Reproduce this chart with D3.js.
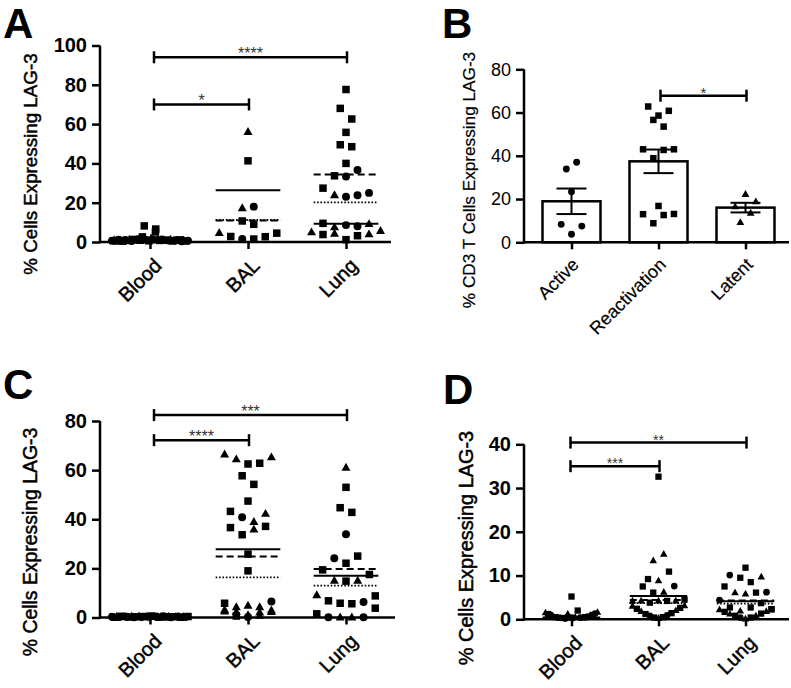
<!DOCTYPE html>
<html><head><meta charset="utf-8">
<script src="https://cdn.jsdelivr.net/npm/d3@7"></script>
<style>body{margin:0;background:#fff}svg{display:block}text{font-family:Arial,"Liberation Sans",sans-serif}</style>
</head><body>
<svg id="fig" width="791" height="688"></svg>
<script>
// ---------------- DATA ----------------
const tissues = ["Blood", "BAL", "Lung"];
const groupsB = ["Active", "Reactivation", "Latent"];
const ticksA = [0, 20, 40, 60, 80, 100];
const ticksB = [0, 20, 40, 60, 80];
const ticksC = [0, 20, 40, 60, 80];
const ticksD = [0, 10, 20, 30, 40];
// shapes: c = circle, s = square, t = triangle ; each inner array = one row of points (left to right)
const A_Blood = [
  [[8.2,'s'],[6.6,'s']],
  [[0.6,'c'],[0.9,'t'],[0.5,'s'],[1.1,'c'],[0.7,'t'],[0.4,'s'],[1.0,'c'],[0.8,'s'],[1.2,'t'],[0.5,'c'],[1.3,'s'],[0.7,'t'],[1.4,'c'],[0.9,'s'],[2.6,'s'],[1.6,'t'],[1.0,'c'],[0.6,'s'],[1.8,'t'],[1.2,'c'],[5.1,'s'],[1.5,'t'],[0.8,'s'],[1.3,'c'],[0.6,'t'],[1.0,'s'],[0.7,'c'],[1.2,'t'],[0.5,'s'],[0.9,'c'],[0.6,'t'],[1.1,'s'],[0.4,'c'],[0.8,'t'],[0.5,'s'],[0.7,'c']]
];
const A_BAL = [
  [[56,'t']], [[41.3,'s']], [[17.2,'t'],[18,'c']], [[10.7,'s'],[9,'s']],
  [[4.6,'t'],[2.8,'s'],[1.6,'c'],[1.5,'s'],[2.7,'s'],[4.5,'s']]
];
const A_Lung = [
  [[77.6,'s']], [[68,'s'],[62.6,'s']], [[55.8,'s']], [[49.5,'s'],[48.5,'s']], [[40,'s']],
  [[33.7,'s'],[33.3,'c'],[36.6,'c']],
  [[27.4,'s'],[23.8,'t'],[23,'c'],[23.8,'c'],[25,'c']],
  [[9.5,'s'],[7.5,'t'],[8.6,'c'],[8.0,'c'],[9.1,'t']],
  [[4.9,'t'],[3.8,'s'],[4.2,'t'],[1.2,'s'],[3.2,'s'],[3.9,'t'],[5.6,'t']]
];
const A_solid = [0.9, 26.3, 9.3], A_dashed = [0.7, 10.9, 34.3], A_dotted = [0.6, 11.2, 20.2];
const A_brackets = [["Blood","Lung",94,"****"],["Blood","BAL",70,"*"]];

const B_Active = [[[33.9,'c'],[37,'c']], [[23.4,'c']], [[8.3,'c'],[3.7,'c'],[7.5,'c']]];
const B_Reactivation = [
  [[62.8,'s'],[58.6,'s'],[60.8,'s']], [[56.6,'s'],[53.5,'s']],
  [[43,'s'],[38.9,'s'],[42.7,'s'],[43,'s']], [[16.8,'s']],
  [[13,'s'],[8.8,'s'],[12.6,'s'],[13.1,'s']]
];
const B_Latent = [[[16.5,'t'],[22.2,'t'],[18.8,'t']], [[9.2,'t'],[13.5,'t']]];
const B_brackets = [["Reactivation","Latent",67.8,"*"]];

const C_Blood = [
  [[0.3,'c'],[0.1,'s'],[0.4,'t'],[0.2,'c'],[0.5,'s'],[0.1,'t'],[0.3,'c'],[0.2,'s'],[0.4,'t'],[0.1,'c'],[0.3,'s'],[0.5,'t'],[0.2,'c'],[0.4,'s'],[0.1,'t'],[0.3,'c'],[0.6,'s'],[0.2,'t'],[0.4,'c'],[0.1,'s'],[0.3,'t'],[0.5,'c'],[0.2,'s'],[0.4,'t'],[0.1,'c'],[0.3,'s'],[0.2,'t'],[0.4,'c'],[0.1,'s'],[0.3,'t'],[0.2,'c'],[0.4,'s']]
];
const C_BAL = [
  [[66.4,'t'],[64.4,'t'],[62.5,'s'],[62.8,'s'],[65.2,'t']],
  [[57.7,'s'],[54.2,'s']], [[47.4,'s']],
  [[43.2,'s'],[40.8,'c'],[38.9,'t'],[42.2,'t']],
  [[36.6,'s'],[33.7,'s'],[35.8,'t'],[37.1,'s']],
  [[25.8,'s']], [[19,'s']],
  [[5.8,'s'],[4.2,'t'],[4.8,'t'],[4.2,'t'],[6.5,'c']],
  [[3.1,'t'],[2.2,'t'],[1.0,'t'],[2.0,'t'],[2.9,'t']],
  [[2.4,'t'],[0.6,'s'],[0.2,'c'],[0.7,'t'],[2.2,'t']]
];
const C_Lung = [
  [[61,'t']], [[53,'s']], [[44.7,'s'],[42.8,'s']], [[33.9,'c']],
  [[24.1,'c'],[22.1,'s'],[25,'s']],
  [[19.4,'s'],[15,'t'],[14.8,'s'],[15,'t'],[17.5,'s']],
  [[9.1,'t'],[6.8,'s'],[5.8,'s'],[5.6,'s'],[6.3,'c'],[8.8,'s']],
  [[1.5,'s'],[0.1,'c'],[0,'t'],[0,'t'],[0.1,'c'],[3.8,'s']]
];
const C_solid = [0.3, 27.8, 17], C_dashed = [0.3, 24.8, 19.7], C_dotted = [0.2, 16.3, 13];
const C_brackets = [["Blood","Lung",82.4,"***"],["Blood","BAL",72.2,"****"]];

const D_Blood = [
  [[5.2,'s']],
  [[1.5,'t'],[1.2,'s'],[1.0,'c'],[0.7,'t'],[0.5,'s'],[0.4,'c'],[0.3,'t'],[0.3,'s'],[0.2,'c'],[1.2,'t'],[0.4,'s'],[0.3,'c'],[0.5,'t'],[2.0,'s'],[0.4,'c'],[0.3,'t'],[0.5,'s'],[0.6,'c'],[0.8,'t'],[1.0,'s'],[1.3,'c'],[1.6,'t']]
];
const D_BAL = [
  [[32.6,'s']], [[13.4,'t'],[14.9,'t']], [[9.2,'s'],[8.8,'t'],[10.9,'s']],
  [[7.5,'s'],[6.1,'s'],[6.2,'t'],[7.6,'c']],
  [[4.2,'t'],[4.2,'t'],[3.8,'s'],[4.2,'t'],[4.2,'s'],[4.2,'t'],[4.5,'s']],
  [[3.0,'t'],[2.4,'s'],[1.8,'t'],[1.2,'s'],[0.8,'c'],[0.4,'s'],[0.2,'t'],[0.5,'s'],[0.9,'c'],[1.4,'s'],[2.0,'t'],[2.6,'s'],[3.1,'t']]
];
const D_Lung = [
  [[11.8,'s']], [[10.1,'c'],[9.5,'s'],[8.5,'s'],[9.7,'t']],
  [[7.5,'s'],[6.1,'t'],[5.8,'t'],[6.1,'s'],[6.2,'c']],
  [[4.4,'c'],[2.7,'s'],[1.9,'t'],[2.7,'s'],[3.7,'s'],[2.3,'s']],
  [[2.2,'t'],[1.7,'s'],[1.2,'t'],[0.8,'s'],[0.4,'c'],[0.1,'t'],[0.4,'s'],[0.8,'t'],[1.3,'s'],[1.8,'t'],[2.3,'s']]
];
const D_solid = [0.4, 5.3, 4.1], D_dashed = [0.3, 4.4, 4.3], D_dotted = [0.3, 3.7, 3.6];
const D_brackets = [["Blood","Lung",40.4,"**"],["Blood","BAL",35,"***"]];

// ---------------- DRAWING ----------------
const svg = d3.select("#fig");

function markerPath(shape, s) {
  if (shape === 's') return `M${-s/2},${-s/2}h${s}v${s}h${-s}Z`;
  if (shape === 'c') { const r = s * 0.53; return `M${r},0A${r},${r} 0 1,1 ${-r},0A${r},${r} 0 1,1 ${r},0Z`; }
  const w = s * 1.2, h = s * 1.05;
  return `M0,${-h*0.62}L${w/2},${h*0.38}L${-w/2},${h*0.38}Z`;
}

function layoutRows(rows, s0, W) {
  const pts = [];
  rows.forEach(row => {
    const n = row.length;
    const s = n > 1 ? Math.min(s0, W / (n - 1)) : 0;
    row.forEach((p, i) => pts.push({ v: p[0], shape: p[1], dx: (i - (n - 1) / 2) * s }));
  });
  return pts;
}

function drawPanel(cfg) {
  const g = svg.append("g");
  const x = d3.scalePoint().domain(cfg.cats).range(cfg.xr).padding(0.5);
  const y = d3.scaleLinear().domain(cfg.yd).range(cfg.yr);
  const y0 = y(0);

  if (cfg.bars) {
    cfg.cats.forEach((c, i) => {
      const vals = cfg.data[i].flat().map(p => p[0]);
      const m = d3.mean(vals), sem = d3.deviation(vals) / Math.sqrt(vals.length);
      const cx = x(c), bw = cfg.barW;
      g.append("rect").attr("x", cx - bw/2).attr("y", y(m)).attr("width", bw).attr("height", y0 - y(m))
        .attr("fill", "#fff").attr("stroke", "#000").attr("stroke-width", 2.5);
      const eb = g.append("g").attr("stroke", "#000").attr("stroke-width", 2);
      eb.append("line").attr("x1", cx).attr("x2", cx).attr("y1", y(m - sem)).attr("y2", y(m + sem));
      [m - sem, m + sem].forEach(v => eb.append("line").attr("x1", cx - 15).attr("x2", cx + 15).attr("y1", y(v)).attr("y2", y(v)));
    });
  }

  cfg.cats.forEach((c, i) => {
    const pts = layoutRows(cfg.data[i], cfg.s0, cfg.W);
    g.selectAll(null).data(pts).join("path")
      .attr("d", d => markerPath(d.shape, cfg.ms))
      .attr("transform", d => `translate(${x(c) + d.dx},${y(d.v)})`)
      .attr("fill", "#000");
  });

  if (cfg.lines) {
    const half = x.step() * 0.33;
    cfg.lines.forEach(([vals, dash, sw]) => {
      cfg.cats.forEach((c, i) => {
        g.append("line").attr("x1", x(c) - half).attr("x2", x(c) + half)
          .attr("y1", y(vals[i])).attr("y2", y(vals[i]))
          .attr("stroke", "#000").attr("stroke-width", sw)
          .attr("stroke-dasharray", dash);
      });
    });
  }

  const ax = g.append("g").attr("stroke", "#000").attr("stroke-width", 2.5).attr("fill", "none");
  ax.append("line").attr("x1", cfg.axX[0]).attr("x2", cfg.axX[1]).attr("y1", y0).attr("y2", y0);
  ax.append("line").attr("x1", cfg.axX[0]).attr("x2", cfg.axX[0]).attr("y1", y0 + 1.25).attr("y2", y(cfg.yd[1]));

  const yAxis = d3.axisLeft(y).tickValues(cfg.ticks).tickSize(8).tickSizeOuter(0).tickPadding(5);
  const ya = g.append("g").attr("transform", `translate(${cfg.axX[0]},0)`).call(yAxis);
  ya.select(".domain").remove();
  ya.selectAll(".tick line").attr("stroke-width", 2.5);
  ya.selectAll(".tick text").attr("font-size", cfg.tickFont).attr("font-weight", cfg.tickWeight)
    .attr("font-family", "Arial, 'Liberation Sans', sans-serif").attr("fill", "#000");

  const xAxis = d3.axisBottom(x).tickSize(7).tickSizeOuter(0).tickFormat("");
  const xa = g.append("g").attr("transform", `translate(0,${y0})`).call(xAxis);
  xa.select(".domain").remove();
  xa.selectAll(".tick line").attr("stroke-width", 2.5);

  // rotated category labels
  cfg.cats.forEach(c => {
    g.append("g").attr("transform", `translate(${x(c) + cfg.xlabDx},${y0 + cfg.xlabDy}) rotate(-45)`)
      .append("text").attr("x", 0).attr("y", 0)
      .attr("text-anchor", "end").attr("dy", "0.35em")
      .attr("font-size", cfg.xlabFont)
      .attr("stroke", "#000").attr("stroke-width", cfg.embolden).text(c);
  });

  g.append("g").attr("transform", `translate(${cfg.titleX},${cfg.titleY}) rotate(-90)`)
    .append("text").attr("text-anchor", "middle").attr("font-size", cfg.titleFont)
    .attr("stroke", "#000").attr("stroke-width", cfg.embolden).text(cfg.title);

  cfg.brackets.forEach(([c1, c2, v, stars]) => {
    const x1 = x(c1) + cfg.brOff, x2 = x(c2) + 1, yy = y(v);
    const b = g.append("g").attr("stroke", "#000").attr("stroke-width", 2.5);
    b.append("line").attr("x1", x1).attr("x2", x2).attr("y1", yy).attr("y2", yy);
    [x1, x2].forEach(xx => b.append("line").attr("x1", xx).attr("x2", xx).attr("y1", yy - 6).attr("y2", yy + 6));
    g.append("text").attr("x", (x1 + x2) / 2).attr("y", yy + 2).attr("text-anchor", "middle")
      .attr("font-size", cfg.starFont).attr("fill", "#333").text(stars);
  });

  g.append("text").attr("x", cfg.lx).attr("y", cfg.ly).attr("font-size", 42).attr("font-weight", "bold").text(cfg.letter);
}

const lineStyles = (s, da, dt) => [[s, null, 2], [da, "7,4", 2], [dt, "1.6,1.8", 1.8]];

drawPanel({ cats: tissues, data: [A_Blood, A_BAL, A_Lung], xr: [101, 395], axX: [100, 391], yd: [0, 100], yr: [242, 45.5],
  ticks: ticksA, s0: 11.5, W: 76, ms: 7.5, lines: lineStyles(A_solid, A_dashed, A_dotted), brackets: A_brackets, brOff: 4,
  tickFont: 20, tickWeight: "bold", xlabFont: 20, embolden: 0.5, xlabDx: 8, xlabDy: 20, title: "% Cells Expressing LAG-3", titleFont: 18.8,
  titleX: 37, titleY: 164, starFont: 16, letter: "A", lx: 3, ly: 38 });

drawPanel({ cats: groupsB, data: [B_Active, B_Reactivation, B_Latent], xr: [528, 789], axX: [524, 789], yd: [0, 80], yr: [242.3, 69.3],
  ticks: ticksB, s0: 10.3, W: 60, ms: 6.5, bars: true, barW: 58, brackets: B_brackets, brOff: 2,
  tickFont: 18, tickWeight: "normal", xlabFont: 18, embolden: 0.2, xlabDx: 4, xlabDy: 19, title: "% CD3 T Cells Expressing LAG-3", titleFont: 17.2,
  titleX: 475, titleY: 180, starFont: 15, letter: "B", lx: 442, ly: 38 });

drawPanel({ cats: tissues, data: [C_Blood, C_BAL, C_Lung], xr: [101, 395], axX: [100, 395], yd: [0, 80], yr: [617.5, 421],
  ticks: ticksC, s0: 11.7, W: 76, ms: 7.5, lines: lineStyles(C_solid, C_dashed, C_dotted), brackets: C_brackets, brOff: 4,
  tickFont: 20, tickWeight: "bold", xlabFont: 20, embolden: 0.5, xlabDx: 8, xlabDy: 20, title: "% Cells Expressing LAG-3", titleFont: 19.4,
  titleX: 37, titleY: 542, starFont: 16, letter: "C", lx: 3, ly: 399 });

drawPanel({ cats: tissues, data: [D_Blood, D_BAL, D_Lung], xr: [528, 789], axX: [524, 789], yd: [0, 40], yr: [619.3, 444.3],
  ticks: ticksD, s0: 10.5, W: 52, ms: 6.3, lines: lineStyles(D_solid, D_dashed, D_dotted), brackets: D_brackets, brOff: -1,
  tickFont: 20, tickWeight: "bold", xlabFont: 20, embolden: 0.5, xlabDx: 7, xlabDy: 20, title: "% Cells Expressing LAG-3", titleFont: 19.9,
  titleX: 473, titleY: 548, starFont: 14, letter: "D", lx: 443, ly: 404 });
</script>
</body></html>
